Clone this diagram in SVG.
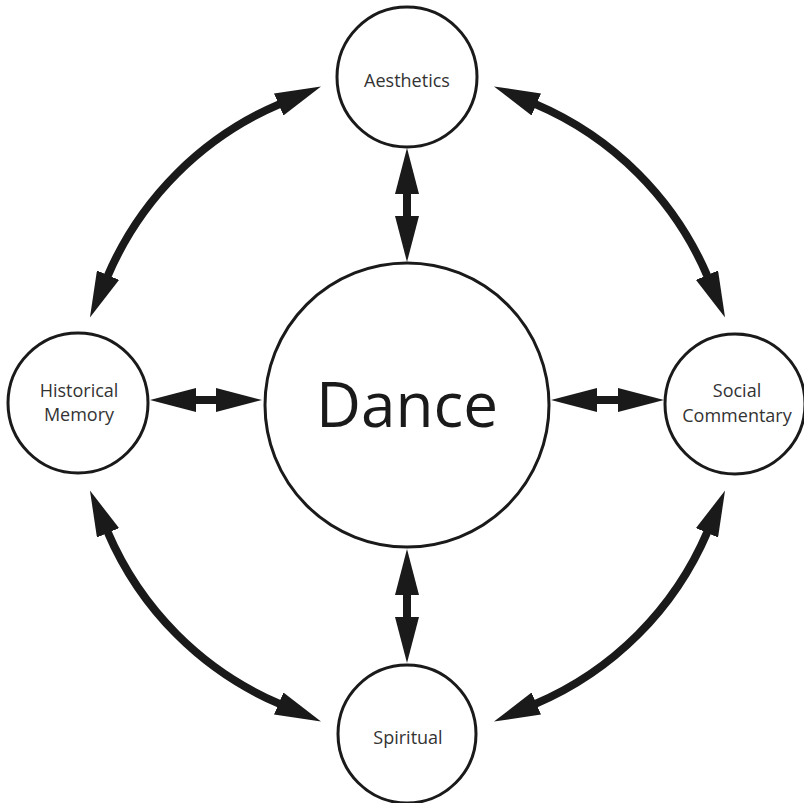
<svg xmlns="http://www.w3.org/2000/svg" width="804" height="803" viewBox="0 0 804 803">
  <defs>
    <marker id="head" markerUnits="userSpaceOnUse" markerWidth="46" markerHeight="24" viewBox="0 0 46 24" refX="1" refY="12" orient="auto-start-reverse">
      <path d="M0,0 L46,12 L0,24 Z" fill="#1a1a1a"/>
    </marker>
  </defs>
  <style>
    .node { fill: #ffffff; stroke: #1a1a1a; stroke-width: 3; }
    .label { font-family: "Open Sans", "Liberation Sans", sans-serif; font-size: 18px; fill: #333333; text-anchor: middle; }
    .big { font-family: "Open Sans", "Liberation Sans", sans-serif; font-size: 62px; fill: #1a1a1a; text-anchor: middle; }
    .link { fill: none; stroke: #1a1a1a; stroke-width: 8; marker-start: url(#head); marker-end: url(#head); }
  </style>
  <rect width="804" height="803" fill="#ffffff"/>
  <g id="connectors">
    <path class="link" d="M407,193 L407,217"/>
    <path class="link" d="M407,594 L407,618"/>
    <path class="link" d="M195,400 L217,400"/>
    <path class="link" d="M596,400 L619,400"/>
    <path class="link" d="M279.6,104.1 A326,326 0 0 0 107.6,276.1"/>
    <path class="link" d="M535.4,104.1 A326,326 0 0 1 707.4,276.1"/>
    <path class="link" d="M107.6,531.9 A326,326 0 0 0 279.6,703.9"/>
    <path class="link" d="M707.4,531.9 A326,326 0 0 1 535.4,703.9"/>
  </g>
  <g id="dance">
    <circle class="node" cx="407" cy="405" r="142"/>
    <text class="big" x="407" y="427">Dance</text>
  </g>
  <g id="aesthetics">
    <circle class="node" cx="407" cy="77" r="70"/>
    <text class="label" x="407" y="87">Aesthetics</text>
  </g>
  <g id="historical-memory">
    <circle class="node" cx="78" cy="403" r="70"/>
    <text class="label" x="79" y="397">Historical</text>
    <text class="label" x="79" y="421">Memory</text>
  </g>
  <g id="social-commentary">
    <circle class="node" cx="735" cy="404" r="70"/>
    <text class="label" x="737" y="397">Social</text>
    <text class="label" x="737" y="422">Commentary</text>
  </g>
  <g id="spiritual">
    <circle class="node" cx="407" cy="734" r="69"/>
    <text class="label" x="408" y="744">Spiritual</text>
  </g>
</svg>
